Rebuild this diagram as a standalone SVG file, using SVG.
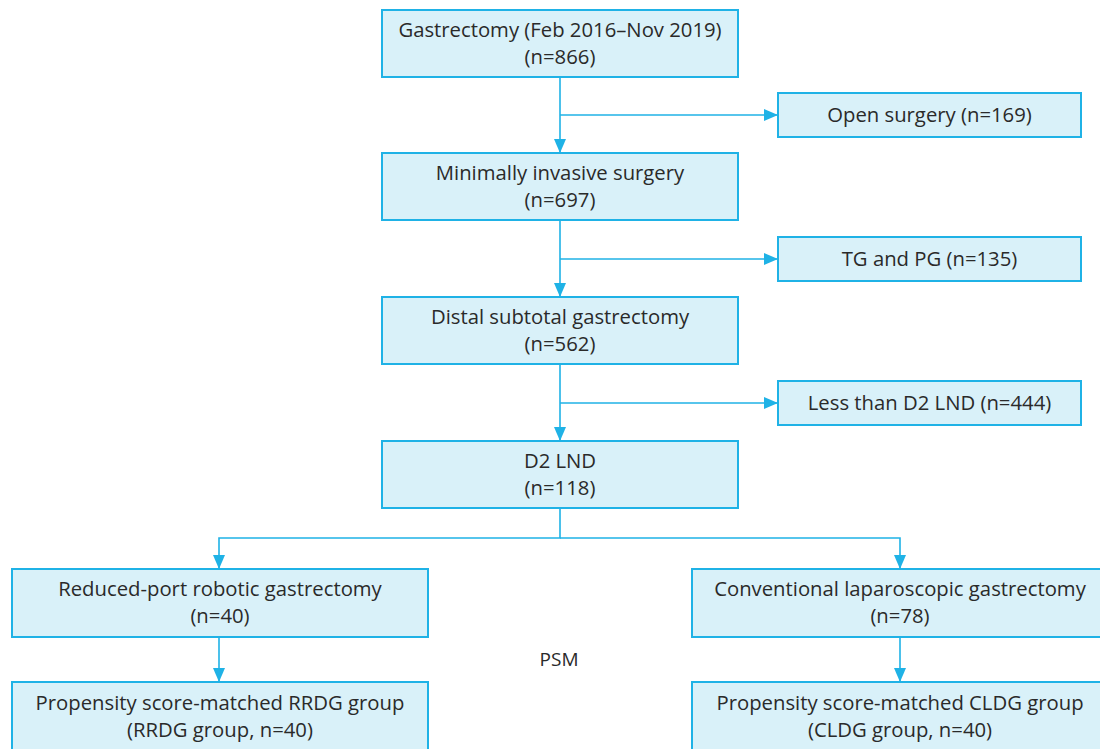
<svg xmlns="http://www.w3.org/2000/svg" width="1100" height="749" viewBox="0 0 1100 749">
<style>
.box{fill:#d9f1f9;stroke:#1fb2e6;stroke-width:2}
.t{font-family:"Open Sans","Noto Sans",sans-serif;font-size:20.3px;fill:#2a2a2a;text-anchor:middle}
.c{fill:none;stroke:#1fb2e6;stroke-width:1.6}
</style>
<defs>
<marker id="ah" markerWidth="14" markerHeight="12" refX="13" refY="6" orient="auto" markerUnits="userSpaceOnUse">
<path d="M0,0 L14,6 L0,12 Z" fill="#1fb2e6"/>
</marker>
</defs>
<rect width="1100" height="749" fill="#fff"/>
<g id="connectors">
<path class="c" d="M560,77 V152" marker-end="url(#ah)"/>
<path class="c" d="M560,115 H777" marker-end="url(#ah)"/>
<path class="c" d="M560,220 V296" marker-end="url(#ah)"/>
<path class="c" d="M560,259 H777" marker-end="url(#ah)"/>
<path class="c" d="M560,364 V440" marker-end="url(#ah)"/>
<path class="c" d="M560,403 H777" marker-end="url(#ah)"/>
<path class="c" d="M560,508 V538 H219 V568" marker-end="url(#ah)"/>
<path class="c" d="M560,538 H900 V568" marker-end="url(#ah)"/>
<path class="c" d="M219,637 V681" marker-end="url(#ah)"/>
<path class="c" d="M900,637 V681" marker-end="url(#ah)"/>
</g>
<g id="n1"><rect class="box" x="382" y="10" width="356" height="67"/><text class="t" x="560" y="37">Gastrectomy (Feb 2016–Nov 2019)</text><text class="t" x="560" y="64">(n=866)</text></g>
<g id="n2"><rect class="box" x="778" y="93" width="303" height="44"/><text class="t" x="929.5" y="122">Open surgery (n=169)</text></g>
<g id="n3"><rect class="box" x="382" y="153" width="356" height="67"/><text class="t" x="560" y="180">Minimally invasive surgery</text><text class="t" x="560" y="207">(n=697)</text></g>
<g id="n4"><rect class="box" x="778" y="237" width="303" height="44"/><text class="t" x="929.5" y="266">TG and PG (n=135)</text></g>
<g id="n5"><rect class="box" x="382" y="297" width="356" height="67"/><text class="t" x="560" y="324">Distal subtotal gastrectomy</text><text class="t" x="560" y="351">(n=562)</text></g>
<g id="n6"><rect class="box" x="778" y="381" width="303" height="44"/><text class="t" x="929.5" y="410">Less than D2 LND (n=444)</text></g>
<g id="n7"><rect class="box" x="382" y="441" width="356" height="67"/><text class="t" x="560" y="468">D2 LND</text><text class="t" x="560" y="495">(n=118)</text></g>
<g id="n8"><rect class="box" x="12" y="569" width="416" height="68"/><text class="t" x="220" y="596">Reduced-port robotic gastrectomy</text><text class="t" x="220" y="623">(n=40)</text></g>
<g id="n9"><rect class="box" x="692" y="569" width="416" height="68"/><text class="t" x="900" y="596">Conventional laparoscopic gastrectomy</text><text class="t" x="900" y="623">(n=78)</text></g>
<g id="psm"><text class="t" x="559" y="666" style="font-size:19px">PSM</text></g>
<g id="n10"><rect class="box" x="12" y="682" width="416" height="80"/><text class="t" x="220" y="710">Propensity score-matched RRDG group</text><text class="t" x="220" y="737">(RRDG group, n=40)</text></g>
<g id="n11"><rect class="box" x="692" y="682" width="416" height="80"/><text class="t" x="900" y="710">Propensity score-matched CLDG group</text><text class="t" x="900" y="737">(CLDG group, n=40)</text></g>
</svg>
